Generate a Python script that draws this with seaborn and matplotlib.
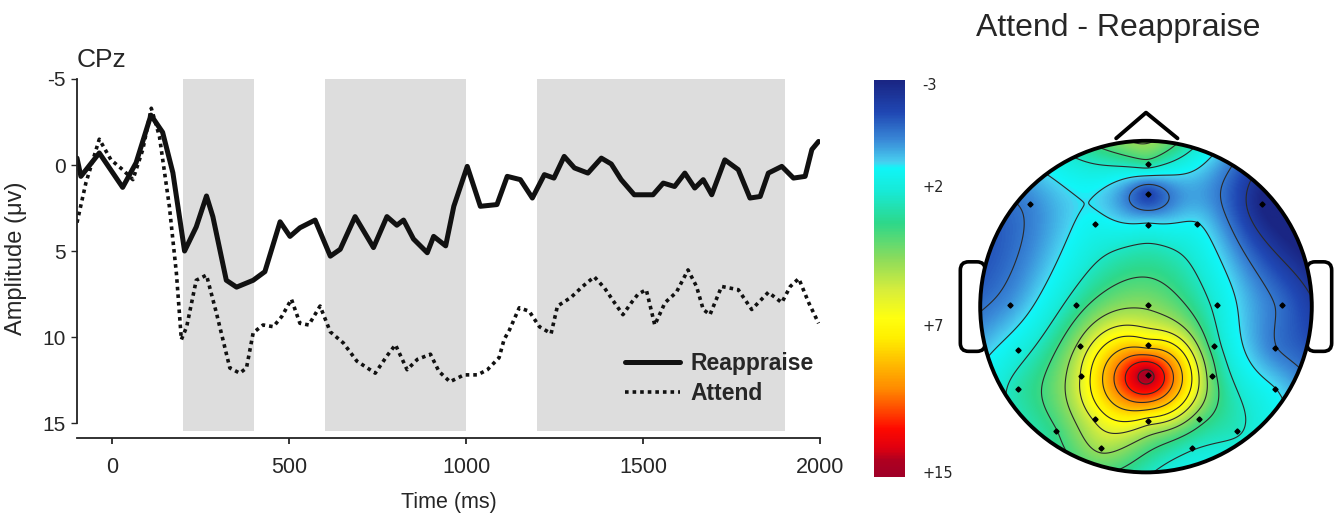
import numpy as np
import pandas as pd
import matplotlib
matplotlib.use("Agg")
import matplotlib.pyplot as plt
from matplotlib.colors import LinearSegmentedColormap
from matplotlib.patches import Circle, FancyBboxPatch
import seaborn as sns

sns.set_style("white")
plt.rcParams["font.family"] = ["Liberation Sans", "DejaVu Sans"]
plt.rcParams["axes.unicode_minus"] = False

# ---- ERP waveforms at CPz ----
reappraise_ms = [-100, -89, -37, 29, 67, 109, 142, 171, 204, 237, 266, 284, 322, 351,
                 398, 431, 474, 502, 530, 573, 616, 644, 686, 738, 776, 804, 823, 851,
                 890, 908, 942, 965, 1003, 1040, 1087, 1116, 1153, 1187, 1221, 1248,
                 1277, 1306, 1344, 1382, 1410, 1438, 1475, 1528, 1557, 1589, 1618, 1646,
                 1670, 1694, 1731, 1769, 1802, 1831, 1854, 1892, 1925, 1958, 1977, 1996]
reappraise_uv = [-0.4, 0.66, -0.7, 1.3, -0.13, -2.9, -1.9, 0.45, 5.0, 3.6, 1.8, 3.0, 6.7, 7.1,
                 6.7, 6.2, 3.3, 4.15, 3.65, 3.2, 5.3, 4.9, 3.0, 4.8, 3.0, 3.5, 3.2, 4.3,
                 5.1, 4.15, 4.7, 2.4, 0.08, 2.4, 2.3, 0.66, 0.85, 1.92, 0.56, 0.76,
                 -0.5, 0.17, 0.47, -0.4, -0.06, 0.85, 1.73, 1.73, 1.05, 1.25, 0.47, 1.34,
                 0.85, 1.73, -0.3, 0.27, 1.92, 1.83, 0.47, 0.08, 0.76, 0.66, -0.9, -1.37]

attend_ms = [-100, -75, -37, -4, 29, 58, 86, 110, 133, 161, 181, 195, 210, 237, 266, 294,
             332, 360, 379, 398, 426, 455, 479, 506, 530, 555, 587, 616, 653, 691, 743,
             776, 800, 833, 862, 899, 923, 954, 994, 1032, 1060, 1093, 1107, 1122, 1150,
             1178, 1207, 1240, 1258, 1296, 1329, 1362, 1391, 1419, 1443, 1467, 1486, 1509,
             1533, 1562, 1594, 1627, 1651, 1670, 1689, 1722, 1769, 1807, 1854, 1892, 1916,
             1940, 1968, 1996]
attend_uv = [3.35, 1.05, -1.5, -0.3, 0.27, 0.85, -0.9, -3.3, -1.66, 2.4, 6.3, 10.15, 9.4, 6.7,
             6.4, 8.6, 11.8, 12.1, 11.8, 9.75, 9.3, 9.4, 8.8, 7.8, 9.2, 9.3, 8.2, 9.7, 10.35,
             11.4, 12.1, 11.1, 10.45, 11.9, 11.3, 11.0, 12.0, 12.6, 12.2, 12.2, 11.9, 11.2,
             10.15, 9.6, 8.3, 8.5, 9.4, 9.8, 8.2, 7.7, 7.06, 6.5, 7.15, 8.0, 8.7, 8.0, 7.5,
             7.25, 9.3, 8.0, 7.4, 6.1, 7.06, 8.4, 8.7, 7.06, 7.25, 8.4, 7.4, 8.0, 7.06, 6.6,
             8.0, 9.2]

windows = [(200, 400), (600, 1000), (1200, 1900)]
x_ticks = [0, 500, 1000, 1500, 2000]
y_ticks = [-5, 0, 5, 10, 15]

# ---- topography (electrode positions in head radii, difference amplitude) ----
elec_x = np.array([0.01, 0.01, -0.70, 0.70, -0.31, 0.01, 0.31, -0.82, -0.42, 0.01, 0.43, 0.82,
                   -0.77, -0.40, 0.01, 0.41, 0.78, -0.39, 0.01, 0.40, -0.77, 0.78, -0.31, 0.01,
                   0.32, -0.54, 0.55, -0.27, 0.28])
elec_y = np.array([0.86, 0.68, 0.62, 0.62, 0.50, 0.49, 0.50, 0.01, 0.01, 0.01, 0.01, 0.01,
                   -0.26, -0.24, -0.23, -0.24, -0.25, -0.42, -0.41, -0.42, -0.50, -0.50, -0.68,
                   -0.69, -0.68, -0.75, -0.75, -0.85, -0.85])
elec_val = np.array([3.0, -1.6, -0.3, -3.0, 1.3, 1.2, 1.0, 0.0, 3.0, 4.5, 2.0, -0.8,
                     1.8, 5.0, 8.0, 3.0, -0.5, 6.0, 14.5, 4.0, 2.8, 1.0, 6.0, 6.5,
                     4.0, 3.5, 2.5, 5.0, 2.5])

cbar_values = [-3, 2, 7, 15]
cbar_labels = ["-3", "+2", "+7", "+15"]
cbar_anchor = [0.0, 0.27, 0.62, 1.0]

cmap_nodes = [(0.00, "#1a2684"), (0.08, "#2048b4"), (0.15, "#3a8ad8"), (0.205, "#48d0f0"),
              (0.22, "#10f6f8"), (0.28, "#18ead6"), (0.36, "#2ed88a"), (0.45, "#8cdc5c"),
              (0.53, "#d8ee3c"), (0.60, "#ffff10"), (0.65, "#fff000"), (0.71, "#ffc000"),
              (0.78, "#ff8a00"), (0.85, "#ff3400"), (0.88, "#ff0a00"), (0.93, "#e00010"),
              (0.96, "#b00020"), (1.00, "#a00028")]
topo_cmap = LinearSegmentedColormap.from_list("topo", cmap_nodes)


def tps_surface(px, py, pv, gx, gy):
    # thin plate spline through the electrode values
    n = len(px)
    d = np.hypot(px[:, None] - px[None, :], py[:, None] - py[None, :])
    K = np.where(d > 0, d**2 * np.log(np.maximum(d, 1e-12)), 0.0)
    P = np.c_[np.ones(n), px, py]
    A = np.zeros((n + 3, n + 3))
    A[:n, :n] = K
    A[:n, n:] = P
    A[n:, :n] = P.T
    w = np.linalg.solve(A, np.r_[pv, 0, 0, 0])
    dg = np.hypot(gx.ravel()[:, None] - px[None, :], gy.ravel()[:, None] - py[None, :])
    Kg = np.where(dg > 0, dg**2 * np.log(np.maximum(dg, 1e-12)), 0.0)
    out = Kg @ w[:n] + w[n] + w[n + 1] * gx.ravel() + w[n + 2] * gy.ravel()
    return out.reshape(gx.shape)


W, H = 1336, 515
fig = plt.figure(figsize=(W / 100, H / 100), dpi=100)

# ---------------- ERP panel ----------------
ax = fig.add_axes([77 / W, 1 - 438 / H, (820 - 77) / W, (438 - 79) / H])
for a, b in windows:
    ax.fill_betweenx([-5, 15.45], a, b, color="#dddddd", lw=0, zorder=0)

df_r = pd.DataFrame({"time": reappraise_ms, "amp": reappraise_uv})
df_a = pd.DataFrame({"time": attend_ms, "amp": attend_uv})
sns.lineplot(data=df_r, x="time", y="amp", color="#111111", lw=3.6, label="Reappraise", ax=ax)
sns.lineplot(data=df_a, x="time", y="amp", color="#111111", lw=2.6, linestyle=(0, (1, 1.1)),
             label="Attend", ax=ax)

ax.set_xlim(-100, 2000)
ax.set_ylim(15.87, -5)
ax.set_xticks(x_ticks)
ax.set_yticks(y_ticks)
sns.despine(ax=ax)
ax.spines["left"].set_bounds(-5, 15)
for s in ("left", "bottom"):
    ax.spines[s].set_linewidth(1.3)
    ax.spines[s].set_color("#222222")
ax.tick_params(axis="x", direction="out", length=4, width=1.3, labelsize=15.5, pad=10, bottom=True)
ax.tick_params(axis="y", direction="out", length=4, width=1.0, labelsize=15, pad=4, left=True)
ax.set_xlabel("Time (ms)", fontsize=15.5, labelpad=10)
ax.set_ylabel("Amplitude (\u03bcv)", fontsize=17, labelpad=11)
ax.text(0.0, 1.033, "CPz", transform=ax.transAxes, fontsize=19, ha="left", va="baseline")
ax.legend(loc="center left", bbox_to_anchor=(0.7254, 0.166), frameon=False,
          prop={"weight": "bold", "size": 16.5}, handlelength=2.4, handletextpad=0.45,
          labelspacing=0.3, borderaxespad=0)

# ---------------- colour bar ----------------
cax = fig.add_axes([874 / W, 1 - 477 / H, 31 / W, 397 / H])
cax.imshow(np.linspace(0, 1, 400)[:, None], aspect="auto", cmap=topo_cmap,
           extent=[0, 1, 1, 0], vmin=0, vmax=1)
cax.set_axis_off()
for lab, pos in zip(cbar_labels, np.clip(cbar_anchor, 0.015, 0.99)):
    cax.text(1.55, pos, lab, transform=cax.transData, ha="left", va="center",
             fontsize=10.5, family="DejaVu Sans")

# ---------------- topographic map ----------------
tax = fig.add_axes([957 / W, 1 - 481 / H, 378 / W, 377 / H])
tax.set_xlim(-1.14, 1.14)
tax.set_ylim(-1.05, 1.22)
tax.set_axis_off()

g = np.linspace(-1, 1, 301)
gx, gy = np.meshgrid(g, g)
surf = tps_surface(elec_x, elec_y, elec_val, gx, gy)
frac = np.interp(np.clip(surf, -3, 15), cbar_values, cbar_anchor)
frac = np.ma.masked_where(np.hypot(gx, gy) > 1.02, frac)

head = Circle((0, 0), 1.0, transform=tax.transData)
im = tax.imshow(frac, extent=[-1, 1, -1, 1], origin="lower", cmap=topo_cmap,
                vmin=0, vmax=1, interpolation="bilinear", zorder=2)
im.set_clip_path(head)
cs = tax.contour(gx, gy, frac, levels=np.linspace(0.05, 0.95, 12), colors="#2a2a2a",
                 linewidths=0.8, zorder=3)
cs.set_clip_path(head)

# ears, nose and outline
for side in (-1, 1):
    ear = FancyBboxPatch((side * 1.045 - 0.055, -0.25), 0.11, 0.5,
                         boxstyle="round,pad=0.02,rounding_size=0.05",
                         fc="white", ec="black", lw=2.6, zorder=1)
    tax.add_patch(ear)
tax.plot([-0.18, 0.0, 0.19], [1.015, 1.17, 1.015], color="black", lw=2.8,
         solid_joinstyle="round", zorder=1)
tax.add_patch(Circle((0, 0), 1.0, fill=False, ec="black", lw=2.8, zorder=4))
tax.plot(elec_x, elec_y, ls="none", marker="D", ms=2.6, color="black", zorder=5)

fig.text(1118 / W, 1 - 28 / H, "Attend - Reappraise", ha="center", va="center", fontsize=23)

fig.savefig("out.png", dpi=100)
